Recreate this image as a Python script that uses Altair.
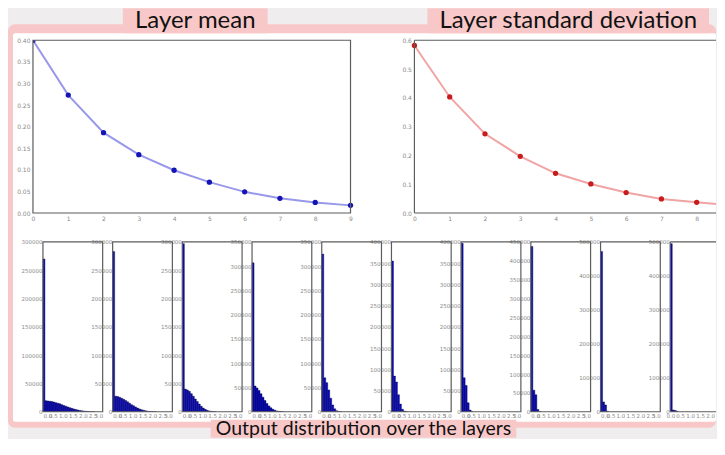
import altair as alt
import pandas as pd

# ---------------- data ----------------
layers = [0, 1, 2, 3, 4, 5, 6, 7, 8, 9]
layer_mean = [0.400, 0.273, 0.186, 0.135, 0.099, 0.0715, 0.049, 0.034, 0.0246, 0.0177]
layer_std = [0.582, 0.403, 0.275, 0.197, 0.138, 0.101, 0.071, 0.049, 0.037, 0.027]

bin_edges = [round(i * 0.1, 1) for i in range(31)]
hist_layer_1 = [270000, 19500, 19000, 18500, 18000, 17000, 16000, 15000, 14000, 12500, 11000, 9800, 8500, 7200, 6000,
                5000, 4000, 3100, 2300, 1700, 1200, 800, 500, 300, 150, 80, 0, 0, 0, 0]
hist_layer_2 = [283000, 27500, 27000, 25500, 24000, 22000, 20000, 17500, 15000, 12500, 10500, 8500, 6500, 5000, 3600,
                2500, 1700, 1000, 600, 300, 150, 60, 0, 0, 0, 0, 0, 0, 0, 0]
hist_layer_3 = [297000, 40000, 38500, 36000, 32000, 27500, 22500, 18000, 13500, 9500, 6500, 4200, 2500, 1400, 700,
                300, 100, 0, 0, 0, 0, 0, 0, 0, 0, 0, 0, 0, 0, 0]
hist_layer_4 = [307000, 53000, 49000, 44000, 37000, 30000, 23000, 17000, 12000, 8000, 5000, 3000, 1600, 800, 300,
                100, 0, 0, 0, 0, 0, 0, 0, 0, 0, 0, 0, 0, 0, 0]
hist_layer_5 = [325000, 70000, 60000, 45000, 28000, 14000, 6000, 2000, 600, 150, 0, 0, 0, 0, 0,
                0, 0, 0, 0, 0, 0, 0, 0, 0, 0, 0, 0, 0, 0, 0]
hist_layer_6 = [355000, 84000, 70000, 40000, 18000, 6000, 1500, 300, 0, 0, 0, 0, 0, 0, 0,
                0, 0, 0, 0, 0, 0, 0, 0, 0, 0, 0, 0, 0, 0, 0]
hist_layer_7 = [397000, 80000, 62000, 21000, 4000, 600, 0, 0, 0, 0, 0, 0, 0, 0, 0,
                0, 0, 0, 0, 0, 0, 0, 0, 0, 0, 0, 0, 0, 0, 0]
hist_layer_8 = [438000, 57000, 45000, 6000, 500, 0, 0, 0, 0, 0, 0, 0, 0, 0, 0,
                0, 0, 0, 0, 0, 0, 0, 0, 0, 0, 0, 0, 0, 0, 0]
hist_layer_9 = [472000, 29000, 20000, 1500, 0, 0, 0, 0, 0, 0, 0, 0, 0, 0, 0,
                0, 0, 0, 0, 0, 0, 0, 0, 0, 0, 0, 0, 0, 0, 0]
hist_layer_10 = [495000, 5000, 4000, 1500, 0, 0, 0, 0, 0, 0, 0, 0, 0, 0, 0,
                 0, 0, 0, 0, 0, 0, 0, 0, 0, 0, 0, 0, 0, 0, 0]
hist_layers = [hist_layer_1, hist_layer_2, hist_layer_3, hist_layer_4, hist_layer_5,
               hist_layer_6, hist_layer_7, hist_layer_8, hist_layer_9, hist_layer_10]
hist_ymax = [300000, 300000, 300000, 350000, 350000, 400000, 400000, 450000, 500000, 500000]
hist_ystep = [50000, 50000, 50000, 50000, 50000, 50000, 50000, 50000, 100000, 100000]
hist_xticks = [0.0, 0.5, 1.0, 1.5, 2.0, 2.5, 3.0]

title_mean = "Layer mean"
title_std = "Layer standard deviation"
title_bottom = "Output distribution over the layers"

# ---------------- layout / styles ----------------
PINK = "#f8c8c8"
BG = "#efeded"
FRAME = "#5c5c5c"
ROW_W = 684                   # both rows end at the right edge of the drawable page area
H_TOP, H_H = 173, 170
MEAN_X, MEAN_W = 0, 318
STD_X, STD_W = 382, ROW_W - 382   # cut off by the page edge, as in the reference
H0, H_PITCH, H_W = 10, 69.8, 59.8

one = pd.DataFrame({"k": [0]})


def box(x, x2, y, y2, color, radius=0):
    return alt.Chart(one).mark_rect(color=color, cornerRadius=radius).encode(
        x=alt.value(x), x2=alt.value(x2), y=alt.value(y), y2=alt.value(y2))


def label(text, x, y, size):
    return alt.Chart(one).mark_text(text=text, font="Lato", fontSize=size, color="#111",
                                    align="center", baseline="middle").encode(
        x=alt.value(x), y=alt.value(y))


decor = [
    box(-25, ROW_W, -16, 388, PINK, 7),
    box(-20, ROW_W, -7, 382, "white", 2),
    box(90, 235, -32, -7, PINK),
    label(title_mean, 162.5, -19.5, 24),
    box(395, 677, -32, -7, PINK),
    label(title_std, 536, -19.5, 24),
    box(178, 484, 380, 398, PINK),
    label(title_bottom, 331, 389.5, 19.5),
]


def frame(xmax, ymax, xa, ya, open_right=False):
    st = dict(color=FRAME, strokeWidth=1.2)
    if not open_right:
        return [alt.Chart(one).mark_rect(fillOpacity=0, stroke=FRAME, strokeWidth=1.2).encode(
            x=alt.XDatum(0, axis=xa), x2=alt.datum(xmax),
            y=alt.YDatum(0, axis=ya), y2=alt.datum(ymax))]
    return [
        alt.Chart(one).mark_rule(**st).encode(x=alt.XDatum(0, axis=xa), y=alt.YDatum(0, axis=ya),
                                              y2=alt.datum(ymax)),
        alt.Chart(one).mark_rule(**st).encode(x=alt.XDatum(0, axis=xa), x2=alt.datum(xmax),
                                              y=alt.YDatum(0, axis=ya)),
        alt.Chart(one).mark_rule(**st).encode(x=alt.XDatum(0, axis=xa), x2=alt.datum(xmax),
                                              y=alt.YDatum(ymax, axis=ya)),
    ]


def line_panel(values, x0, w, dmax, ymax, yticks, yfmt, line_color, pt_color, open_right):
    df = pd.DataFrame({"layer": layers, "value": values})
    xa = alt.Axis(values=[v for v in layers if v <= dmax], format="d", title=None, zindex=1,
                  orient="bottom", ticks=False, labelPadding=2, labelFlush=False, labelOverlap=False)
    ya = alt.Axis(values=yticks, format=yfmt, title=None, zindex=1, ticks=False,
                  labelPadding=3, orient="left", offset=-x0, labelOverlap=False)
    base = alt.Chart(df).encode(
        x=alt.X("layer:Q", scale=alt.Scale(domain=[0, dmax], range=[x0, x0 + w], nice=False), axis=xa),
        y=alt.Y("value:Q", scale=alt.Scale(domain=[0, ymax], nice=False), axis=ya),
    )
    line = base.mark_line(color=line_color, strokeWidth=2, clip=True)
    pts = base.mark_circle(color=pt_color, size=28, opacity=1, clip=True)
    return alt.layer(line, pts, *frame(dmax, ymax, xa, ya, open_right))


mean_panel = line_panel(layer_mean, MEAN_X, MEAN_W, 9, 0.4,
                        [0, 0.05, 0.1, 0.15, 0.2, 0.25, 0.3, 0.35, 0.4], ".2f",
                        "#9898ea", "#1414b4", False)
std_panel = line_panel(layer_std, STD_X, STD_W, 9 * STD_W / MEAN_W, 0.6,
                       [0, 0.1, 0.2, 0.3, 0.4, 0.5, 0.6], ".1f",
                       "#f0a4a4", "#c81c1c", True)

top_row = alt.layer(*decor, mean_panel, std_panel).resolve_scale(
    x="independent", y="independent").properties(width=ROW_W, height=H_TOP)


def hist_panel(i, counts, ymax, ystep):
    x0 = H0 + H_PITCH * i
    w = min(H_W, ROW_W - x0)
    full = (w == H_W)
    dmax = 3 * w / H_W
    df = pd.DataFrame({"start": bin_edges[:-1], "end": bin_edges[1:], "count": counts})
    xa = alt.Axis(values=[t for t in hist_xticks if (t <= dmax + 1e-9 if full else t <= dmax - 0.15)],
                  format=".1f", orient="bottom", title=None, labelOverlap=False, labelFontSize=5.5,
                  ticks=False, labelPadding=2, labelFlush=full)
    ya = alt.Axis(values=list(range(0, ymax + 1, ystep)), format="d", title=None,
                  orient="left", offset=-x0, labelOverlap=False, ticks=False,
                  labelPadding=1, labelFontSize=5.5)
    bars = alt.Chart(df).transform_filter("datum.count > 0").mark_bar(
        color="#0a0ac0", stroke="#000038", strokeWidth=0.4, clip=True).encode(
        x=alt.X("start:Q", scale=alt.Scale(domain=[0, dmax], range=[x0, x0 + w], nice=False, zero=False),
                axis=xa),
        x2="end:Q",
        y=alt.Y("count:Q", scale=alt.Scale(domain=[0, ymax], nice=False), axis=ya),
        y2=alt.datum(0),
    )
    return alt.layer(bars, *frame(dmax, ymax, xa, ya, open_right=not full))


hist_panels = [hist_panel(i, c, m, s)
               for i, (c, m, s) in enumerate(zip(hist_layers, hist_ymax, hist_ystep))]
bottom_row = alt.layer(*hist_panels).resolve_scale(
    x="independent", y="independent").properties(width=ROW_W, height=H_H)

chart = alt.vconcat(top_row, bottom_row, spacing=29, bounds="flush").properties(
    padding=0, background=BG
).configure_view(
    strokeWidth=0, strokeOpacity=0
).configure_axis(
    labelFont="DejaVu Sans", labelFontSize=6, labelColor="#8a8a8a", grid=False, domain=False
)

chart.save("out.html", embed_options={"renderer": "svg", "actions": False})
